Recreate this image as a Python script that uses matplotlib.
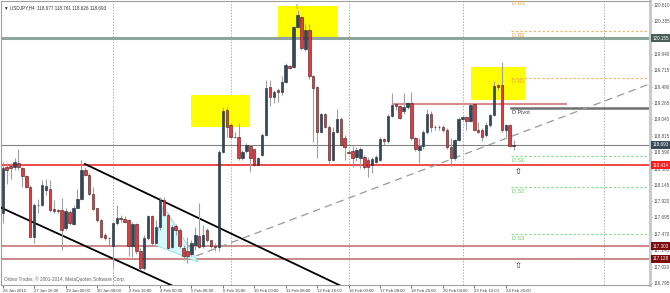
import matplotlib
matplotlib.use('Agg')
from matplotlib import pyplot as plt
from matplotlib.patches import Rectangle, Polygon
import matplotlib.transforms as mtransforms
import numpy as np

plt.rcParams['font.family'] = ['Liberation Sans', 'DejaVu Sans']

# USDJPY H4 candles
opens = [117.75, 118.39, 118.40, 118.39, 118.44, 118.37, 118.26, 118.12, 117.43, 117.86,
         117.87, 118.07, 118.09, 117.81, 117.80, 117.80, 117.55, 117.77, 117.61, 117.83,
         117.95, 118.34, 118.28, 118.02, 117.82, 117.66, 117.46, 117.42, 117.30, 117.62,
         117.69, 117.68, 117.66, 117.30, 117.61, 117.23, 117.00, 117.41, 117.71, 117.35,
         117.56, 117.94, 117.73, 117.29, 117.58, 117.52, 117.27, 117.23, 117.20, 117.32,
         117.44, 117.30, 117.52, 117.38, 117.31, 117.29, 118.60, 119.17, 118.96, 118.795,
         118.80, 118.51, 118.61, 118.68, 118.63, 118.42, 118.55, 118.83, 119.48, 119.35,
         119.44, 119.42, 119.56, 119.77, 119.76, 120.31, 120.45, 120.00, 120.27, 119.63,
         119.48, 118.87, 119.11, 118.94, 118.49, 118.87, 119.05, 118.79, 118.60, 118.61,
         118.53, 118.51, 118.53, 118.48, 118.41, 118.46, 118.49, 118.77, 118.74, 119.09,
         119.25, 119.22, 119.15, 119.21, 119.26, 118.78, 118.62, 118.67, 118.87, 119.12,
         118.94, 118.94, 118.94, 118.89, 118.66, 118.51, 118.76, 119.05, 119.07, 119.02,
         119.25, 118.90, 118.89, 118.83, 118.96, 119.10, 119.51, 119.51, 118.90, 118.96,
         118.677]
highs = [118.45, 118.44, 118.44, 118.51, 118.64, 118.39, 118.28, 118.14, 117.89, 117.95,
         118.21, 118.23, 118.21, 117.94, 117.81, 117.96, 117.82, 117.80, 117.87, 118.09,
         118.48, 118.39, 118.30, 118.12, 117.83, 117.68, 117.48, 117.43, 117.64, 117.87,
         117.73, 117.71, 117.67, 117.64, 117.62, 117.27, 117.45, 117.73, 117.73, 117.66,
         117.98, 117.98, 117.75, 117.59, 117.61, 117.55, 117.32, 117.43, 117.39, 117.57,
         117.90, 117.59, 117.55, 117.39, 117.34, 118.62, 119.21, 119.21, 118.99, 118.87,
         118.99, 118.62, 118.72, 118.69, 118.64, 118.53, 118.85, 119.58, 119.58, 119.45,
         119.47, 119.63, 119.81, 119.79, 120.32, 120.54, 120.46, 120.35, 120.35, 119.65,
         119.50, 119.13, 119.13, 118.96, 118.93, 119.19, 119.08, 118.82, 118.62, 118.67,
         118.66, 118.66, 118.55, 118.53, 118.52, 118.55, 118.80, 118.79, 119.12, 119.40,
         119.27, 119.24, 119.40, 119.28, 119.42, 118.80, 118.79, 118.90, 119.19, 119.15,
         118.96, 118.96, 118.96, 118.92, 118.78, 118.77, 119.08, 119.09, 119.09, 119.25,
         119.26, 119.01, 118.92, 119.01, 119.12, 119.57, 119.53, 119.83, 118.98, 118.98,
         118.761]
lows = [117.62, 118.16, 118.23, 118.35, 118.35, 118.12, 118.10, 117.41, 117.34, 117.76,
        117.85, 118.00, 117.77, 117.75, 117.76, 117.25, 117.53, 117.59, 117.59, 117.82,
        117.94, 118.26, 118.00, 117.80, 117.64, 117.41, 117.39, 117.30, 117.00, 117.59,
        117.64, 117.62, 117.16, 117.15, 117.20, 116.98, 116.98, 117.39, 117.30, 117.34,
        117.52, 117.71, 117.26, 117.27, 117.46, 117.27, 117.11, 117.07, 117.16, 117.25,
        117.27, 117.27, 117.36, 117.27, 117.23, 117.23, 118.58, 118.80, 118.78, 118.78,
        118.49, 118.48, 118.58, 118.32, 118.40, 118.41, 118.54, 118.81, 119.22, 119.26,
        119.28, 119.38, 119.54, 119.73, 119.74, 120.29, 119.99, 119.98, 119.60, 118.73,
        118.51, 118.85, 118.92, 118.42, 118.47, 118.85, 118.67, 118.48, 118.56, 118.39,
        118.47, 118.37, 118.36, 118.25, 118.30, 118.44, 118.47, 118.69, 118.72, 119.08,
        119.17, 119.04, 119.12, 119.19, 118.76, 118.61, 118.44, 118.64, 118.84, 118.87,
        118.90, 118.90, 118.87, 118.64, 118.40, 118.49, 118.74, 119.03, 118.89, 119.01,
        118.89, 118.85, 118.74, 118.80, 118.94, 119.09, 119.45, 118.87, 118.80, 118.66,
        118.626]
closes = [118.38, 118.35, 118.37, 118.45, 118.39, 118.26, 118.12, 117.43, 117.87, 117.87,
          118.14, 118.13, 117.80, 117.79, 117.78, 117.53, 117.78, 117.62, 117.83, 117.95,
          118.34, 118.28, 118.02, 117.81, 117.66, 117.43, 117.42, 117.41, 117.62, 117.69,
          117.67, 117.64, 117.30, 117.61, 117.23, 117.00, 117.41, 117.71, 117.34, 117.57,
          117.94, 117.73, 117.27, 117.57, 117.52, 117.30, 117.17, 117.16, 117.34, 117.46,
          117.29, 117.46, 117.39, 117.30, 117.29, 118.60, 119.15, 118.94, 118.80, 118.805,
          118.51, 118.60, 118.69, 118.51, 118.42, 118.51, 118.83, 119.47, 119.35, 119.42,
          119.41, 119.56, 119.79, 119.75, 120.31, 120.47, 120.02, 120.27, 119.63, 119.47,
          118.87, 119.11, 118.94, 118.49, 118.87, 119.05, 118.69, 118.66, 118.58, 118.51,
          118.62, 118.64, 118.39, 118.39, 118.50, 118.53, 118.77, 118.74, 119.09, 119.24,
          119.22, 119.06, 119.21, 119.26, 118.78, 118.63, 118.67, 118.87, 119.12, 118.94,
          118.93, 118.93, 118.89, 118.66, 118.51, 118.76, 119.05, 119.07, 119.02, 119.24,
          118.90, 118.87, 118.80, 118.96, 119.10, 119.50, 119.49, 118.89, 118.96, 118.67,
          118.693]

time_labels = ['26 Jan 2015', '27 Jan 16:00', '29 Jan 00:00', '30 Jan 08:00', '2 Feb 16:00',
               '4 Feb 00:00', '5 Feb 08:00', '6 Feb 16:00', '10 Feb 00:00', '11 Feb 08:00',
               '12 Feb 16:00', '16 Feb 00:00', '17 Feb 08:00', '18 Feb 20:00', '20 Feb 04:00',
               '23 Feb 12:00', '24 Feb 20:00']
price_ticks = [120.610, 120.385, 119.940, 119.715, 119.490, 119.265, 119.040, 118.815,
               118.590, 118.365, 118.145, 117.920, 117.695, 117.470, 117.245, 117.020, 116.795]
week_starts = [28, 58, 88, 117, 153]

pivot_names = ['D R3', 'D R2', 'D R1', 'D Pivot', 'D S1', 'D S2', 'D S3']
pivot_levels = [120.69, 120.253, 119.615, 119.197, 118.54, 118.11, 117.473]

bid = 118.693
resistance = 120.155
support = 118.414
lower_supports = [117.303, 117.128]

opens = np.array(opens); highs = np.array(highs)
lows = np.array(lows); closes = np.array(closes)
x = np.arange(len(opens))
up = closes >= opens

fig = plt.figure(figsize=(6.7, 2.93), dpi=100)
ax = fig.add_axes([1/670, 8/293, 649/670, 284/293])
ax.set_xlim(-0.45, 164.7)
ax.set_ylim(116.769, 120.665)

# weekly separators
for w in week_starts:
    ax.axvline(w, color='#a8b0b8', lw=0.7, ls=(0, (1.5, 1.5)), zorder=1)

# boxes
box_style = dict(facecolor='#ffff00', edgecolor='none', zorder=1)
ax.add_patch(Rectangle((47.9, 118.936), 15.0, 0.439, **box_style))
ax.add_patch(Rectangle((70.1, 120.144), 15.0, 0.452, **box_style))
ax.add_patch(Rectangle((119.2, 119.307), 13.8, 0.453, **box_style))

# horizontal levels
ax.axhline(resistance, color='#8ea59c', lw=2.2, zorder=2)
ax.axhline(bid, color='#808080', lw=0.8, zorder=2)
ax.axhline(support, color='#f03a3a', lw=1.3, zorder=2)
for lv in lower_supports:
    ax.axhline(lv, color='#c06868', lw=1.1, zorder=2)
ax.plot([99.2, 143.3], [119.252, 119.252], color='#dc8a8a', lw=1.5, zorder=2)

# daily pivots
for name, lv in zip(pivot_names, pivot_levels):
    if 'R' in name:
        col, ls, lw, tcol = '#f5b060', (0, (2, 2)), 0.8, '#f0a040'
    elif 'S' in name:
        col, ls, lw, tcol = '#80dd80', (0, (2, 2)), 0.8, '#60c860'
    else:
        col, ls, lw, tcol = '#707070', '-', 1.8, '#404040'
    ax.plot([129.4, 164.7], [lv, lv], color=col, ls=ls, lw=lw, zorder=2)
    ax.text(129.6, lv - 0.025, name, fontsize=4.0, color=tcol, va='top', ha='left', zorder=6)

# trend channel
for x0, y0, slope in [(20.9, 118.429, -0.02566), (-0.45, 117.83, -0.02454)]:
    xs = np.array([x0, x0 + 80])
    ax.plot(xs, y0 + slope * (xs - x0), color='black', lw=1.3, zorder=3)

# rising dashed trendline
xs = np.array([49.2, 164.7])
ax.plot(xs, 117.168 + 0.02044 * (xs - 49.2), color='#999999', lw=0.9,
        ls=(0, (6, 4)), zorder=3)

# small triangle
ax.add_patch(Polygon([[40.8, 117.853], [49.7, 117.085], [38.8, 117.318]],
                     closed=True, facecolor='#d4f7fa', edgecolor='#8fd8e0', lw=0.6, zorder=2))

# candles
ax.vlines(x, lows, highs, color='#a0a0a0', lw=0.8, zorder=4)
body_h = np.maximum(np.abs(closes - opens), 0.006)
ax.bar(x[up], body_h[up], bottom=np.minimum(opens, closes)[up], width=0.62,
       color='#34465a', edgecolor='#1e2a36', lw=0.4, zorder=5)
ax.bar(x[~up], body_h[~up], bottom=np.minimum(opens, closes)[~up], width=0.62,
       color='#e8383d', edgecolor='#3a1e1e', lw=0.4, zorder=5)

# arrows
ax.text(74.9, highs[75] + 0.01, '\u21e9', fontsize=5, color='#b8a000', ha='center', va='bottom',
        family=['DejaVu Sans'], zorder=6)
for lv in [118.32, 117.04]:
    ax.text(131.1, lv, '\u21e7', fontsize=6, color='#303030', ha='center', va='center',
            family=['DejaVu Sans'], zorder=6)

# axes styling
for s in ['left', 'top', 'bottom']:
    ax.spines[s].set_color('#a0a0a0')
    ax.spines[s].set_linewidth(0.8)
ax.spines['right'].set_color('#c8ccd0')
ax.spines['right'].set_linewidth(2.2)

ax.yaxis.tick_right()
ax.set_yticks(price_ticks)
ax.set_yticklabels(['%.3f' % v for v in price_ticks])
ax.tick_params(axis='y', labelsize=3.3, colors='#505050', length=1.5, width=0.5, pad=0.8)
ax.set_xticks(np.arange(len(time_labels)) * 8)
ax.set_xticklabels(time_labels, ha='left')
ax.tick_params(axis='x', labelsize=3.1, colors='#404040', length=2, width=0.5, pad=1)

# price tags on the right scale
trans = mtransforms.blended_transform_factory(ax.transAxes, ax.transData)
for lv, fc in [(resistance, '#4b5f58'), (bid, '#3b4a58'), (support, '#ff1c1c'),
               (lower_supports[0], '#7c0c0c'), (lower_supports[1], '#7c0c0c')]:
    ax.text(1.004, lv, '%.3f' % lv, transform=trans, fontsize=3.3, color='white',
            ha='left', va='center', clip_on=False, zorder=10,
            bbox=dict(boxstyle='square,pad=0.35', facecolor=fc, edgecolor='none'))

ax.text(0.004, 0.985, '\u25bc USDJPY,H4  118.677 118.761 118.626 118.693', transform=ax.transAxes,
        fontsize=3.3, color='#303030', ha='left', va='top')
ax.text(0.004, 0.012, 'Orbex Trader, \u00a9 2001-2014, MetaQuotes Software Corp.', transform=ax.transAxes,
        fontsize=3.4, color='#606060', ha='left', va='bottom')

fig.savefig('out.png', dpi=100)
